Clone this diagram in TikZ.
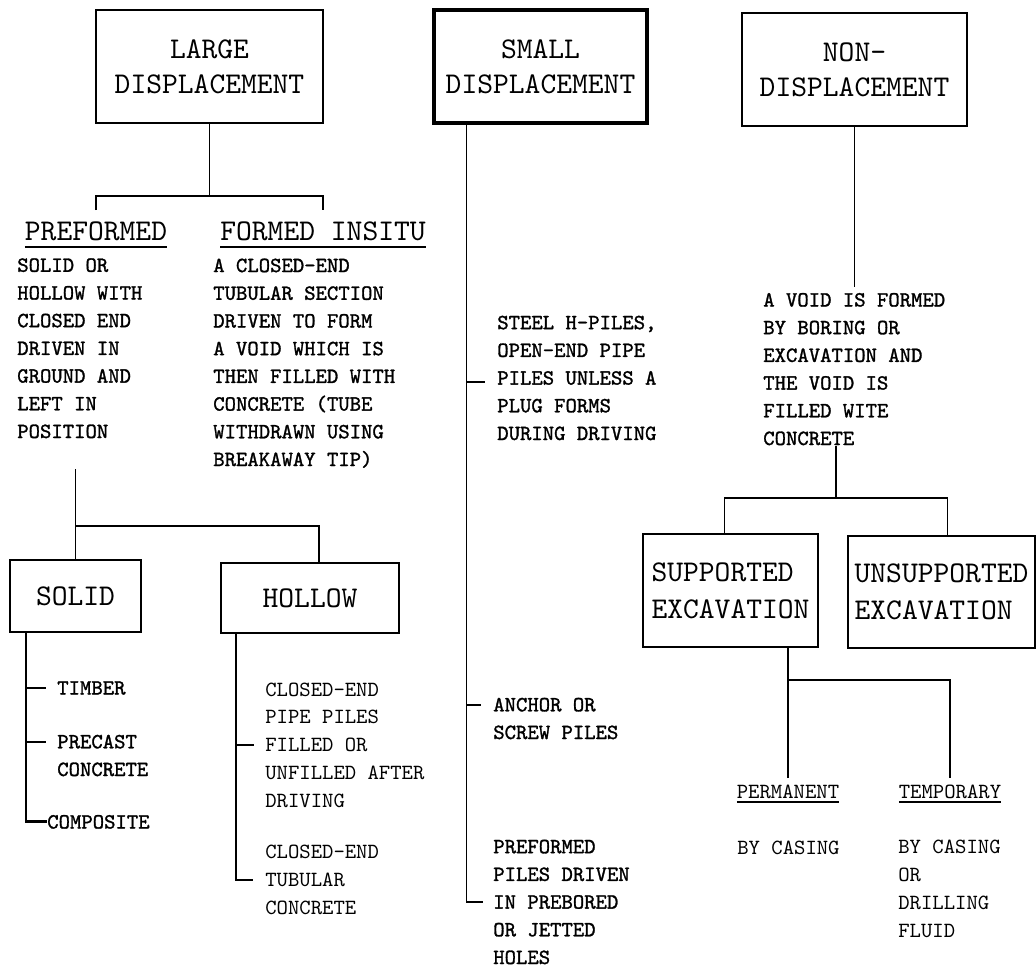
\documentclass[tikz,border=0pt]{standalone}
\usepackage{fontspec}
\setmonofont{lmmono10-regular.otf}[AutoFakeBold=1.3]
\usetikzlibrary{positioning, calc}
\newcommand{\boxfont}{\ttfamily\fontsize{21.4pt}{24.9pt}\selectfont}
\newcommand{\bodyfont}{\ttfamily\fontsize{15.4pt}{19.7pt}\selectfont}
% underlined heading with a heavier rule
\newcommand{\hdline}[2]{\setbox0\hbox{#2}\rlap{\vrule width\wd0 height -#1 depth \dimexpr#1+1.4pt\relax}\box0}
\tikzset{
    % Box styles
    class/.style={
        rectangle,
        draw,
        line width=1.4pt,
        align=center,
        inner sep=0pt,
        font=\boxfont
    },
    heading/.style={
        anchor=base,
        inner xsep=0pt,
        inner ysep=0.275cm,
        font=\boxfont
    },
    % text blocks are placed by the baseline of their last line
    desc/.style={
        anchor=base west,
        align=left,
        inner sep=0pt,
        font=\bodyfont\bfseries
    },
    plain/.style={
        desc,
        font=\bodyfont
    },
    % Line styles
    link/.style={line width=1pt},
    spine/.style={line width=2pt},
    thinlink/.style={line width=0.8pt}
}
\begin{document}
\begin{tikzpicture}[x=0.025cm, y=-0.025cm]
    \useasboundingbox (0,0) rectangle (1036,969);

    % Large displacement column
    \node[class, minimum width=5.675cm, minimum height=2.825cm] (large) at (209.5,66.5) {LARGE\\DISPLACEMENT};
    \node[heading] (preformed) at (96,240) {\hdline{4.3pt}{PREFORMED}};
    \node[heading] (insitu) at (323,240) {\hdline{4.3pt}{FORMED INSITU}};
    \draw[link] (large.south) -- ++(0,72) coordinate (lgjoin);
    \draw[link] (preformed.north) |- (lgjoin) -| (insitu.north);

    \node[desc] (pfdesc) at (17,438) {SOLID OR\\HOLLOW WITH\\CLOSED END\\DRIVEN IN\\GROUND AND\\LEFT IN\\POSITION};
    \node[desc] (isdesc) at (213,466) {A CLOSED-END\\TUBULAR SECTION\\DRIVEN TO FORM\\A VOID WHICH IS\\THEN FILLED WITH\\CONCRETE (TUBE\\WITHDRAWN USING\\BREAKAWAY TIP)};

    % Solid / hollow
    \node[class, minimum width=3.275cm, minimum height=1.8cm] (solid) at (75.5,596) {SOLID};
    \node[class, minimum width=4.45cm, minimum height=1.75cm] (hollow) at (310,598) {HOLLOW};
    \draw[link] (solid.north) -- ++(0,-33) coordinate (pfjoin) -- ++(0,-57);
    \draw[link] (pfjoin) -| ($(hollow.north)+(9,0)$);

    \node[desc] (timber) at (57,694.5) {TIMBER};
    \node[desc] (precast) at (57,776) {PRECAST\\CONCRETE};
    \node[desc] (composite) at (47,828.5) {COMPOSITE};
    \coordinate (sdtop) at ($(solid.south west)+(17,0)$);
    \draw[spine] (sdtop) |- (composite.west);
    \draw[spine] (sdtop |- timber.west) -- ++(20,0);
    \draw[spine] (sdtop |- {$(precast.base west)+(0,-34)$}) -- ++(20,0);

    \node[plain] (pipes) at (265,807) {CLOSED-END\\PIPE PILES\\FILLED OR\\UNFILLED AFTER\\DRIVING};
    \node[plain] (tubular) at (265,914) {CLOSED-END\\TUBULAR\\CONCRETE};
    \coordinate (hwtop) at ($(hollow.south west)+(16,0)$);
    \draw[thinlink] (hwtop) |- ($(tubular.base west)+(-12,-34)$);
    \draw[thinlink] (hwtop |- {$(pipes.base west)+(0,-62)$}) -- ++(18,0);

    % Small displacement column
    \node[class, line width=2.5pt, minimum width=5.325cm, minimum height=2.825cm] (small) at (540.5,66.5) {SMALL\\DISPLACEMENT};
    \node[desc] (steel) at (497,440) {STEEL H-PILES,\\OPEN-END PIPE\\PILES UNLESS A\\PLUG FORMS\\DURING DRIVING};
    \node[desc] (anchor) at (493,739) {ANCHOR OR\\SCREW PILES};
    \node[desc] (pfpiles) at (493,964) {PREFORMED\\PILES DRIVEN\\IN PREBORED\\OR JETTED\\HOLES};
    \coordinate (smtop) at ($(small.south west)+(34,0)$);
    \draw[link] (smtop) |- ($(pfpiles.base west)+(-10,-62)$);
    \draw[link] (smtop |- {$(steel.base west)+(0,-58)$}) -- ++(19,0);
    \draw[link] (smtop |- {$(anchor.base west)+(0,-34)$}) -- ++(15,0);

    % Non-displacement column
    \node[class, minimum width=5.625cm, minimum height=2.825cm] (non) at (854.5,69.5) {NON-\\DISPLACEMENT};
    \node[desc] (void) at (763,445) {A VOID IS FORMED\\BY BORING OR\\EXCAVATION AND\\THE VOID IS\\FILLED WITE\\CONCRETE};
    \draw[link] (non.south) -- ($(non.south |- void.north)+(0,-6)$);

    \node[class, align=left, minimum width=4.375cm, minimum height=2.825cm, font=\ttfamily\fontsize{21.4pt}{26.3pt}\selectfont] (supported) at (730.5,590.5) {SUPPORTED\\EXCAVATION};
    \node[class, align=left, minimum width=4.675cm, minimum height=2.8cm, font=\ttfamily\fontsize{21.4pt}{26.3pt}\selectfont] (unsup) at (941.5,592) {UNSUPPORTED\\EXCAVATION};
    \coordinate (exjoin) at (836,498);
    \draw[link] (void.south -| exjoin) -- (exjoin);
    \draw[link] ($(supported.north)+(-6,0)$) |- (exjoin) -| ($(unsup.north)+(6,0)$);

    % Permanent / temporary
    \node[heading, inner ysep=0.15cm, font=\bodyfont] (permanent) at (788,798) {\hdline{2pt}{PERMANENT}};
    \node[heading, inner ysep=0.15cm, font=\bodyfont] (temporary) at (950,798) {\hdline{2pt}{TEMPORARY}};
    \draw[link] (permanent.north) -- (permanent.north |- supported.south);
    \draw[link] ($(permanent.north |- supported.south)+(0,32)$) -| (temporary.north);

    \node[plain] (casing) at (737,854) {BY CASING};
    \node[plain] (fluid) at (898,937) {BY CASING\\OR\\DRILLING\\FLUID};
\end{tikzpicture}
\end{document}
